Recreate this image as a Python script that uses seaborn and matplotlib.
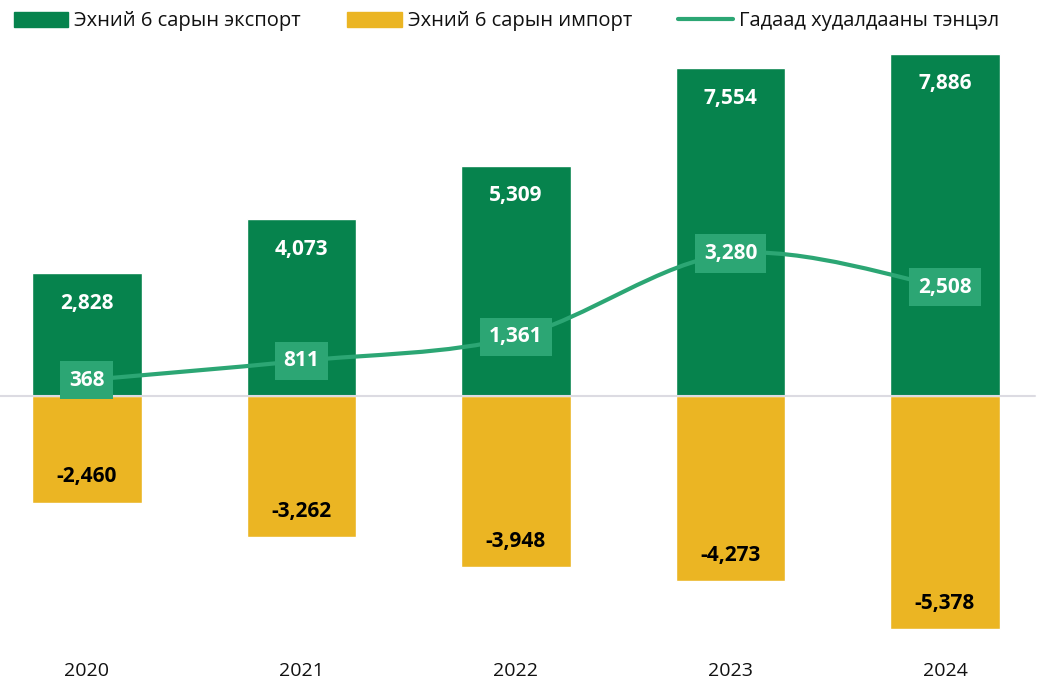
import matplotlib.pyplot as plt
import seaborn as sns
import pandas as pd
from matplotlib.path import Path
from matplotlib.patches import PathPatch
from matplotlib.lines import Line2D
from matplotlib.patches import Patch

years = ["2020", "2021", "2022", "2023", "2024"]
export = [2828, 4073, 5309, 7554, 7886]
imports = [-2460, -3262, -3948, -4273, -5378]
balance = [368, 811, 1361, 3280, 2508]

label_export = "Эхний 6 сарын экспорт"
label_import = "Эхний 6 сарын импорт"
label_balance = "Гадаад худалдааны тэнцэл"

GREEN = "#06834d"
YELLOW = "#ebb523"
LINE = "#2ca674"

sns.set_theme(style="white")
plt.rcParams['font.family'] = ['Open Sans', 'DejaVu Sans']

df = pd.DataFrame({"year": years, "export": export, "import": imports})

fig = plt.figure(figsize=(10.48, 6.8), dpi=100)
ax = fig.add_axes([0, 40 / 680, 1, 600 / 680])

sns.barplot(data=df, x="year", y="export", color=GREEN, saturation=1,
            width=0.51, ax=ax, zorder=2)
sns.barplot(data=df, x="year", y="import", color=YELLOW, saturation=1,
            width=0.51, ax=ax, zorder=2)

# smooth line (catmull-rom as bezier segments)
pts = list(zip(range(len(balance)), balance))
verts = [pts[0]]
codes = [Path.MOVETO]
for i in range(len(pts) - 1):
    p0 = pts[max(i - 1, 0)]
    p1 = pts[i]
    p2 = pts[i + 1]
    p3 = pts[min(i + 2, len(pts) - 1)]
    c1 = (p1[0] + (p2[0] - p0[0]) / 6, p1[1] + (p2[1] - p0[1]) / 6)
    c2 = (p2[0] - (p3[0] - p1[0]) / 6, p2[1] - (p3[1] - p1[1]) / 6)
    verts += [c1, c2, p2]
    codes += [Path.CURVE4] * 3
ax.add_patch(PathPatch(Path(verts, codes), fill=False, ec=LINE, lw=3, zorder=3,
                       capstyle='round'))

ax.axhline(0, xmin=0, xmax=1035 / 1048, color="#dcdbe2", lw=1.5, zorder=2.5)

for i in range(len(years)):
    ax.annotate(f"{export[i]:,}", (i, export[i]), xytext=(0, -30),
                textcoords="offset pixels", ha="center", va="center",
                color="white", fontsize=15, fontweight="bold", zorder=4)
    ax.annotate(f"{imports[i]:,}", (i, imports[i]), xytext=(0, 26),
                textcoords="offset pixels", ha="center", va="center",
                color="black", fontsize=15, fontweight="bold", zorder=4)
    ax.text(i, balance[i], f"{balance[i]:,}", ha="center", va="center",
            color="white", fontsize=15, fontweight="bold", zorder=5,
            bbox=dict(boxstyle="square,pad=0.42", fc=LINE, ec="none"))

ax.set_xlim(-87 / 214.5, (1048 - 87) / 214.5)
ax.set_ylim(-5626, 8208)
ax.set_xlabel("")
ax.set_ylabel("")
ax.set_yticks([])
ax.tick_params(axis="x", length=0, pad=16, labelsize=14, labelcolor="#111111")
for s in ax.spines.values():
    s.set_visible(False)

handles = [Patch(color=GREEN), Patch(color=YELLOW),
           Line2D([0], [0], color=LINE, lw=3)]
fig.legend(handles, [label_export, label_import, label_balance],
           loc="upper left", bbox_to_anchor=(-0.004, 1.01), ncol=3,
           frameon=False, fontsize=14.5, handlelength=2.7, handleheight=0.8,
           handletextpad=0.3, columnspacing=2.3, labelcolor="#111111")

fig.savefig("out.png", dpi=100)
